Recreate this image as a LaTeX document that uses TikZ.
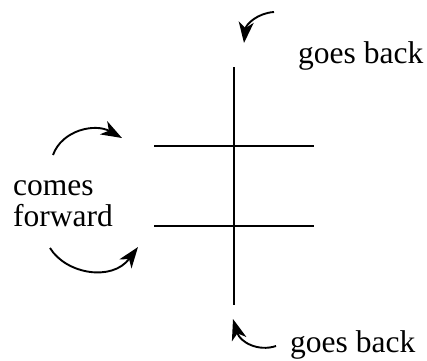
\documentclass[tikz,border=0pt]{standalone}
\usepackage{fontspec}
\setmainfont{Liberation Serif}
\usetikzlibrary{arrows.meta}
\begin{document}
\begin{tikzpicture}[x=1pt,y=-1pt,
  bar/.style={line width=2pt},
  curved/.style={line width=1.9pt,-{Stealth[length=21pt,width=15pt,inset=6pt]}},
  lab/.style={font=\fontsize{31.5}{32}\selectfont,inner sep=0pt,anchor=base west}]
\useasboundingbox (0,0) rectangle (427,360);
% cross lines
\coordinate (vt) at (234,67);
\coordinate (vb) at (234,305);
\coordinate (h1l) at (154,146);
\coordinate (h1r) at (314,146);
\coordinate (h2l) at (154,226);
\coordinate (h2r) at (314,226);
\draw[bar] (vt) -- (vb);
\draw[bar] (h1l) -- (h1r);
\draw[bar] (h2l) -- (h2r);
% labels
\node[lab] (gb1) at (298,63) {goes back};
\node[lab] (gb2) at (290,352) {goes back};
\node[lab] (comes) at (13,195) {comes};
\node[lab] (forward) at (13,226) {forward};
% arrows
\coordinate (a1s) at (274,12);
\coordinate (a1e) at (244,43);
\draw[curved] (a1s) .. controls (258,13) and (246,24) .. (a1e);
\coordinate (a2s) at (276,346);
\coordinate (a2e) at (233,319);
\draw[curved] (a2s) .. controls (258,352) and (240,342) .. (a2e);
\coordinate (a3s) at (53,155);
\coordinate (a3e) at (122,138);
\draw[curved] (a3s) .. controls (62,130) and (95,123) .. (a3e);
\coordinate (a4s) at (50,248);
\coordinate (a4e) at (138,247);
\draw[curved] (a4s) .. controls (66,274) and (112,282) .. (a4e);
\end{tikzpicture}
\end{document}
